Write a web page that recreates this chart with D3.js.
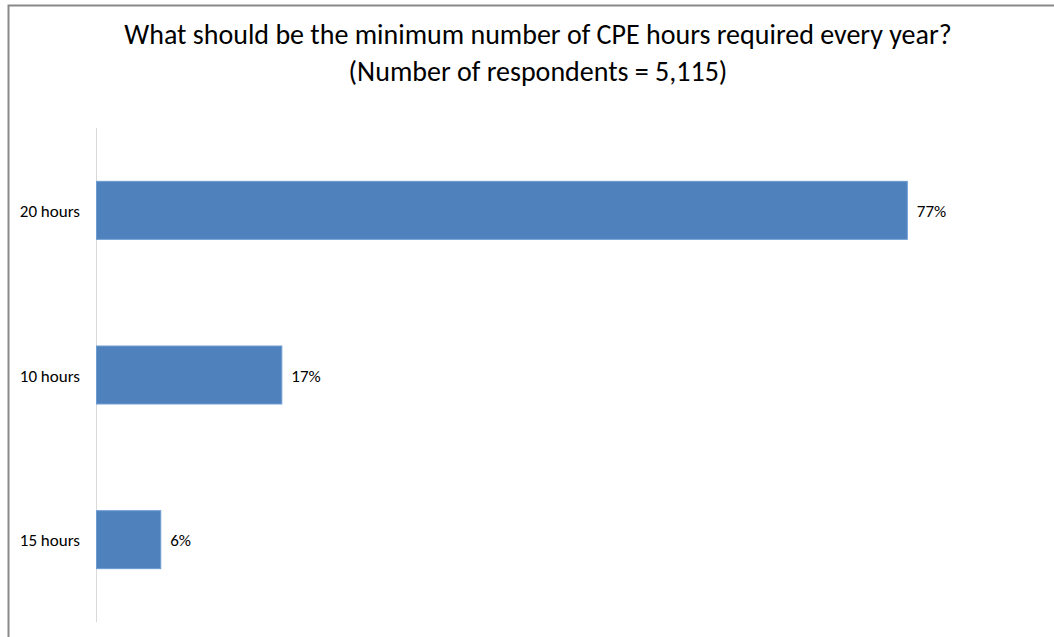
<!DOCTYPE html>
<html><head><meta charset="utf-8">
<script src="https://cdn.jsdelivr.net/npm/d3@7"></script>
<style>html,body{margin:0;padding:0;background:#fff;}svg{display:block;}</style>
</head><body>
<svg id="c" width="1054" height="637"></svg>
<script>
const titleLines = ["What should be the minimum number of CPE hours required every year?", "(Number of respondents = 5,115)"];
const categories = ["20 hours", "10 hours", "15 hours"];
const values = [0.77, 0.176, 0.061];
const labels = ["77%", "17%", "6%"];

const svg = d3.select("#c");
const font = "Carlito, 'Liberation Sans', Arial, sans-serif";

svg.append("rect").attr("x", 8.5).attr("y", 5.5).attr("width", 1200).attr("height", 800)
  .attr("fill", "#fff").attr("stroke", "#898989").attr("stroke-width", 2);

const tt = svg.append("text").attr("text-anchor", "middle").attr("font-family", font)
  .attr("font-size", 28).attr("fill", "#000");
tt.selectAll("tspan").data(titleLines).join("tspan")
  .attr("x", 538).attr("y", (d, i) => 44 + i * 37).text(d => d);

const x = d3.scaleLinear().domain([0, 1]).range([96, 96 + 1053]);
const y = d3.scaleBand().domain(categories).range([128, 622]).paddingInner(0.648).paddingOuter(0.324);

svg.append("line").attr("x1", 96.5).attr("x2", 96.5).attr("y1", 128).attr("y2", 622)
  .attr("stroke", "#d9d9d9").attr("stroke-width", 1);

svg.selectAll("rect.bar").data(values).join("rect").attr("class", "bar")
  .attr("x", x(0) + 0.5).attr("y", (d, i) => y(categories[i]))
  .attr("width", d => x(d) - x(0)).attr("height", y.bandwidth())
  .attr("fill", "#4f81bd").attr("stroke", "#6d9bd2").attr("stroke-width", 1);

svg.selectAll("text.cat").data(categories).join("text").attr("class", "cat")
  .attr("x", 80).attr("y", d => y(d) + y.bandwidth() / 2).attr("dy", "0.39em")
  .attr("text-anchor", "end").attr("font-family", font).attr("font-size", 17).attr("fill", "#000")
  .text(d => d);

svg.selectAll("text.val").data(values).join("text").attr("class", "val")
  .attr("x", d => x(d) + 10).attr("y", (d, i) => y(categories[i]) + y.bandwidth() / 2).attr("dy", "0.39em")
  .attr("font-family", font).attr("font-size", 17).attr("fill", "#000")
  .text((d, i) => labels[i]);
</script>
</body></html>
